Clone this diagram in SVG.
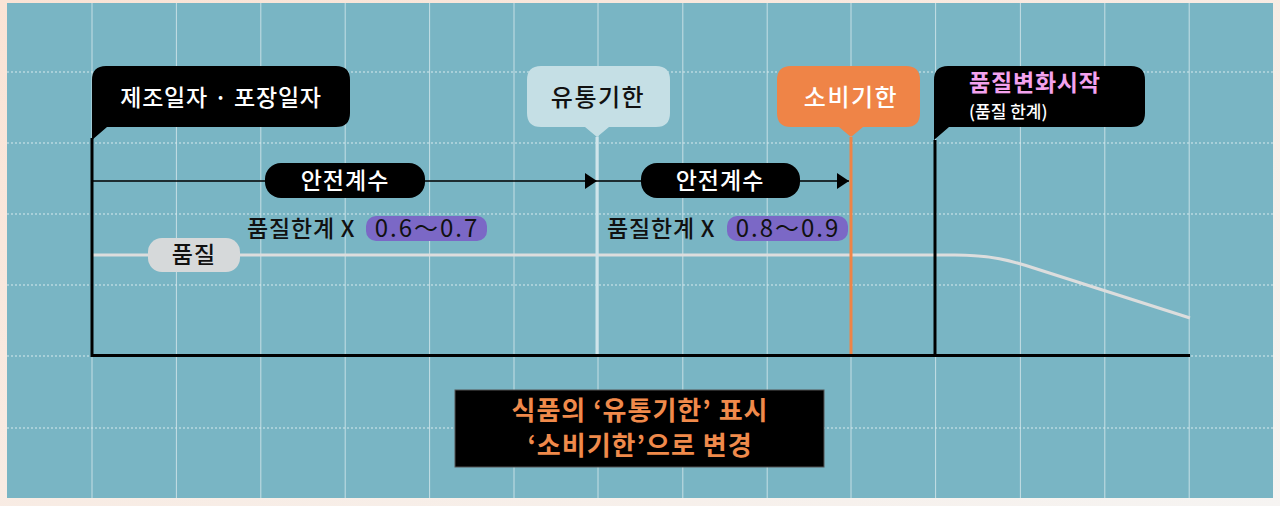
<svg xmlns="http://www.w3.org/2000/svg" width="1280" height="506" viewBox="0 0 1280 506">
  <defs>
    <linearGradient id="bgGrad" x1="0" y1="0" x2="1" y2="1">
      <stop offset="0" stop-color="#fae3d5"/>
      <stop offset="1" stop-color="#f6f4f2"/>
    </linearGradient>
    <marker id="arrowHead" markerUnits="userSpaceOnUse" markerWidth="14" markerHeight="16" refX="12" refY="8" orient="auto">
      <path d="M0,0 L12,8 L0,16 Z" fill="#000"/>
    </marker>
    <style>
      .kr { font-family: "Noto Sans CJK KR", "Noto Sans", sans-serif; }
      .vgrid { stroke: #c6dfe5; stroke-width: 1; }
      .hgrid { stroke: #d8eaee; stroke-width: 1; stroke-dasharray: 2 2; }
      .axis { stroke: #000; stroke-width: 3; fill: none; }
      .flow { stroke: #000; stroke-width: 1.6; fill: none; }
      .pillText { font-size: 23px; fill: #fff; text-anchor: middle; font-weight: 500; letter-spacing: 1px; }
      .limitText { font-size: 23px; fill: #111; font-weight: 500; letter-spacing: 0.8px; }
      .numText { font-size: 24px; fill: #111; letter-spacing: 2px; text-anchor: middle; }
      .title { font-size: 24px; text-anchor: middle; font-weight: 500; letter-spacing: 1.5px; }
    </style>
  </defs>

  <!-- background -->
  <rect x="0" y="0" width="1280" height="506" fill="url(#bgGrad)"/>
  <rect x="7" y="3" width="1266" height="495" fill="#79b5c4"/>

  <!-- grid -->
  <g id="grid">
    <line class="vgrid" x1="176.4" y1="3" x2="176.4" y2="498"/>
    <line class="vgrid" x1="260.8" y1="3" x2="260.8" y2="498"/>
    <line class="vgrid" x1="345.2" y1="3" x2="345.2" y2="498"/>
    <line class="vgrid" x1="429.6" y1="3" x2="429.6" y2="498"/>
    <line class="vgrid" x1="514" y1="3" x2="514" y2="498"/>
    <line class="vgrid" x1="682.8" y1="3" x2="682.8" y2="498"/>
    <line class="vgrid" x1="767.2" y1="3" x2="767.2" y2="498"/>
    <line class="vgrid" x1="1020.4" y1="3" x2="1020.4" y2="498"/>
    <line class="vgrid" x1="1104.8" y1="3" x2="1104.8" y2="498"/>
    <line class="vgrid" x1="1189.2" y1="3" x2="1189.2" y2="498"/>
    <line class="vgrid" x1="92" y1="3" x2="92" y2="498"/>
    <line class="vgrid" x1="598" y1="3" x2="598" y2="498"/>
    <line class="vgrid" x1="851" y1="3" x2="851" y2="498"/>
    <line class="vgrid" x1="935.6" y1="3" x2="935.6" y2="498"/>
    <line class="hgrid" x1="7" y1="72" x2="1273" y2="72"/>
    <line class="hgrid" x1="7" y1="143" x2="1273" y2="143"/>
    <line class="hgrid" x1="7" y1="214" x2="1273" y2="214"/>
    <line class="hgrid" x1="7" y1="285" x2="1273" y2="285"/>
    <line class="hgrid" x1="7" y1="356" x2="1273" y2="356"/>
    <line class="hgrid" x1="7" y1="428" x2="1273" y2="428"/>
  </g>

  <!-- connectors / lines -->
  <g id="connectors">
    <path d="M92,255 H955 C990,255 1010,260 1040,270 L1190,318" fill="none" stroke="#dcdddd" stroke-width="3"/>
    <line x1="597" y1="137" x2="597" y2="355" stroke="#cfe4ea" stroke-width="3"/>
    <line x1="851" y1="137" x2="851" y2="355" stroke="#ef8447" stroke-width="3"/>
    <line class="axis" x1="935" y1="140" x2="935" y2="355"/>
    <path class="axis" d="M92,138 V355.5 H1190"/>
    <line class="flow" x1="92" y1="181" x2="597" y2="181" marker-end="url(#arrowHead)"/>
    <line class="flow" x1="597" y1="181" x2="849" y2="181" marker-end="url(#arrowHead)"/>
  </g>

  <!-- callouts -->
  <g id="node-manufacture">
    <path d="M92,80 Q92,66 106,66 L336,66 Q350,66 350,80 L350,113 Q350,127 336,127 L107,127 L92,140 Z" fill="#000"/>
    <text class="kr" x="221" y="106" font-size="23" fill="#fff" text-anchor="middle" font-weight="500" letter-spacing="0.8">제조일자 · 포장일자</text>
  </g>

  <g id="node-distribution">
    <path d="M541,66 L656,66 Q670,66 670,80 L670,113 Q670,127 656,127 L609,127 L597,137 L585,127 L541,127 Q527,127 527,113 L527,80 Q527,66 541,66 Z" fill="#c5dfe5"/>
    <text class="kr title" x="598" y="106" fill="#111">유통기한</text>
  </g>

  <g id="node-consumption">
    <path d="M791,66 L906,66 Q920,66 920,80 L920,113 Q920,127 906,127 L863,127 L851,137 L839,127 L791,127 Q777,127 777,113 L777,80 Q777,66 791,66 Z" fill="#ef8447"/>
    <text class="kr title" x="851" y="106" fill="#fff" font-weight="400">소비기한</text>
  </g>

  <g id="node-quality-change">
    <path d="M934,80 Q934,66 948,66 L1131,66 Q1145,66 1145,80 L1145,113 Q1145,127 1131,127 L949,127 L934,140 Z" fill="#000"/>
    <text class="kr" x="969" y="91" font-size="23" fill="#f3a2ee" font-weight="700" letter-spacing="0.8">품질변화시작</text>
    <text class="kr" x="969" y="118" font-size="17" fill="#fff" font-weight="500">(품질 한계)</text>
  </g>

  <!-- safety factor pills -->
  <g id="node-safety1">
    <rect x="265" y="163" width="160" height="35" rx="16" fill="#000"/>
    <text class="kr pillText" x="345" y="189">안전계수</text>
  </g>
  <g id="node-safety2">
    <rect x="641" y="163" width="159" height="35" rx="16" fill="#000"/>
    <text class="kr pillText" x="720" y="189">안전계수</text>
  </g>

  <!-- quality limit factors -->
  <g id="node-factor1">
    <text class="kr limitText" x="247" y="237">품질한계 X</text>
    <rect x="366" y="216" width="121" height="25" rx="10" fill="#7b68c6"/>
    <text class="kr numText" x="427" y="237">0.6～0.7</text>
  </g>
  <g id="node-factor2">
    <text class="kr limitText" x="607" y="237">품질한계 X</text>
    <rect x="727" y="216" width="121" height="25" rx="10" fill="#7b68c6"/>
    <text class="kr numText" x="788" y="237">0.8～0.9</text>
  </g>

  <!-- quality label -->
  <g id="node-quality">
    <rect x="148" y="238" width="92" height="34" rx="14" fill="#d6d9da"/>
    <text class="kr" x="194" y="263" font-size="23" fill="#111" text-anchor="middle" font-weight="500" letter-spacing="1">품질</text>
  </g>

  <!-- bottom note -->
  <g id="node-note">
    <rect x="455" y="390" width="369" height="77" fill="#000" stroke="#555" stroke-width="1"/>
    <text class="kr" x="640" y="420" font-size="26" fill="#f08a4b" text-anchor="middle" font-weight="700" letter-spacing="1">식품의 ‘유통기한’ 표시</text>
    <text class="kr" x="640" y="455" font-size="26" fill="#f08a4b" text-anchor="middle" font-weight="700" letter-spacing="1">‘소비기한’으로 변경</text>
  </g>
</svg>
